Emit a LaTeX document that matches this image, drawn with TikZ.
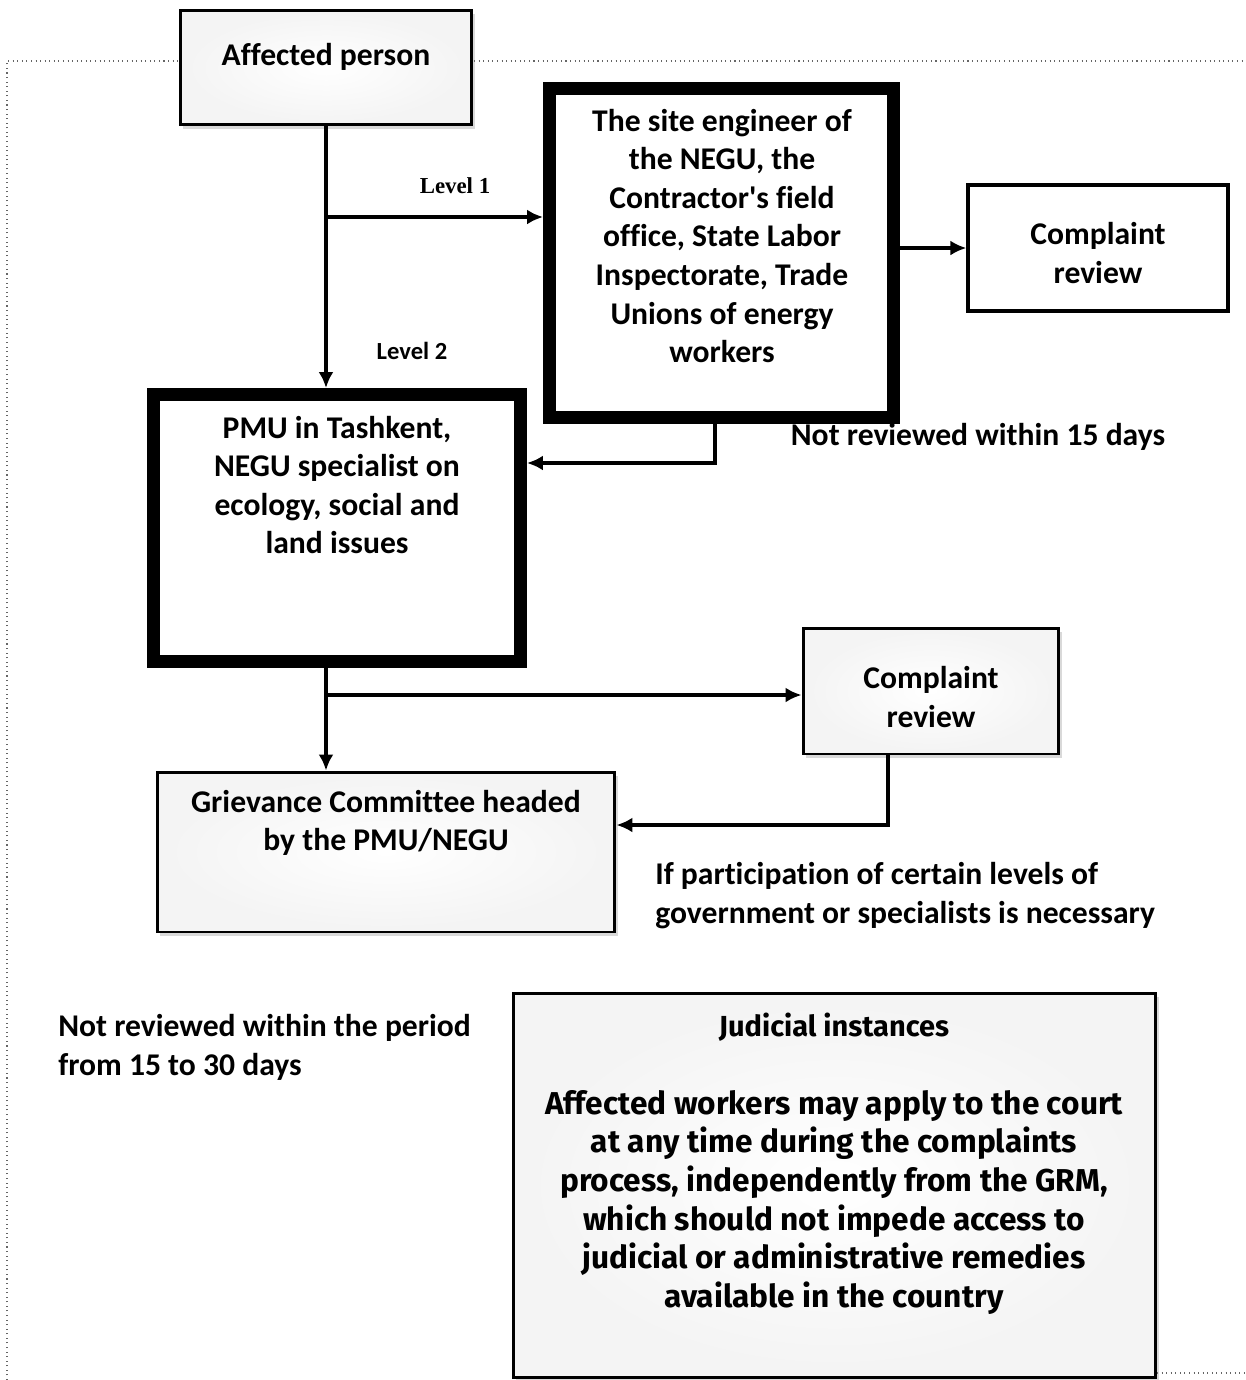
\documentclass[tikz,border=0pt]{standalone}
\usepackage{fontspec}
\setmainfont{Carlito}[Ligatures={TeX,NoCommon}]
\newfontfamily\lvlserif{Liberation Serif}
\newfontfamily\judfont{Fira Sans}[Ligatures={TeX,NoCommon}]
\usepackage{tikz}
\usetikzlibrary{positioning,calc,arrows.meta,shadows}
\usepackage{xcolor}

\tikzset{
  bevel/.style={draw, line width=1.7pt, inner color=white, outer color=gray!9,
    drop shadow={opacity=0.3, shadow xshift=0.6mm, shadow yshift=-0.8mm}},
  thickbox/.style={draw, fill=white, line width=7.4pt},
  plainbox/.style={draw, fill=white, line width=1.9pt},
  txt/.style={font=\bfseries\fontsize{18}{22}\selectfont, align=center, inner sep=0pt},
  conn/.style={line width=1.8pt, -{Latex[length=3.2mm,width=3mm]}}
}

\begin{document}
\begin{tikzpicture}[x=0.02cm, y=-0.02cm]
  \useasboundingbox (0,0) rectangle (1245,1380);
  % dotted frame of the text box
  \draw[dotted, gray!80!black, line width=0.6pt] (7,1380) -- (7,61) -- (1250,61);
  \draw[dotted, gray!80!black, line width=0.6pt] (1157,1373) -- (1250,1373);

  % boxes
  \node[bevel, minimum width=5.84cm, minimum height=2.3cm] (aff) at (326,67.5) {};
  \node[thickbox, minimum width=6.88cm, minimum height=6.58cm] (site) at (721.5,253) {};
  \node[plainbox, minimum width=5.2cm, minimum height=2.52cm] (cr1) at (1098,248) {};
  \node[thickbox, minimum width=7.34cm, minimum height=5.34cm] (pmu) at (337,528) {};
  \node[bevel, minimum width=5.12cm, minimum height=2.52cm] (cr2) at (931,691) {};
  \node[bevel, minimum width=9.16cm, minimum height=3.2cm] (griev) at (386,852) {};
  \node[bevel, minimum width=12.86cm, minimum height=7.7cm] (jud) at (834.5,1185.5) {};

  % texts
  \node[txt] (affT) at (326,57) {Affected person};
  \node[txt] (siteT) at (722,236) {The site engineer of\\the NEGU, the\\Contractor\textquotesingle s field\\office, State Labor\\Inspectorate, Trade\\Unions of energy\\workers};
  \node[txt] (cr1T) at (1098,253) {Complaint\\review};
  \node[txt] (pmuT) at (337,485) {PMU in Tashkent,\\NEGU specialist on\\ecology, social and\\land issues};
  \node[txt] (cr2T) at (931,697) {Complaint\\review};
  \node[txt] (grievT) at (386,823) {Grievance Committee headed\\by the PMU/NEGU};
  \node[txt, font=\judfont\bfseries\fontsize{18}{22}\selectfont] (judT) at (834,1164) {{\fontsize{16.5}{22}\selectfont Judicial instances}\\[22pt]Affected workers may apply to the court\\at any time during the complaints\\process, independently from the GRM,\\which should not impede access to\\judicial or administrative remedies\\available in the country};
  \node[txt, font=\lvlserif\bfseries\fontsize{13}{15}\selectfont] (lvl1) at (455,186) {Level 1};
  \node[txt, font=\bfseries\fontsize{14}{16}\selectfont] (lvl2) at (412,351) {Level 2};
  \node[txt] (nr15) at (978,437) {Not reviewed within 15 days};
  \node[txt, align=left, anchor=west] (ifp) at (655,895.5) {If participation of certain levels of\\government or specialists is necessary};
  \node[txt, align=left, anchor=west] (nr30) at (58,1047.5) {Not reviewed within the period\\from 15 to 30 days};

  % connectors
  \coordinate (l1) at (326,217);
  \coordinate (back) at (715,463);
  \coordinate (l3) at (326,695);
  \coordinate (ret) at (888,825);
  \draw[conn] (aff.south) -- (aff.south |- pmu.north);
  \draw[conn] (l1) -- (l1 -| site.west);
  \draw[conn] (site.east |- cr1.west) -- (cr1.west);
  \draw[conn] (site.south -| back) -- (back) -- (back -| pmu.east);
  \draw[conn] (aff.south |- pmu.south) -- (aff.south |- griev.north);
  \draw[conn] (l3) -- (l3 -| cr2.west);
  \draw[conn] (ret |- cr2.south) -- (ret) -- (ret -| griev.east);
\end{tikzpicture}
\end{document}
